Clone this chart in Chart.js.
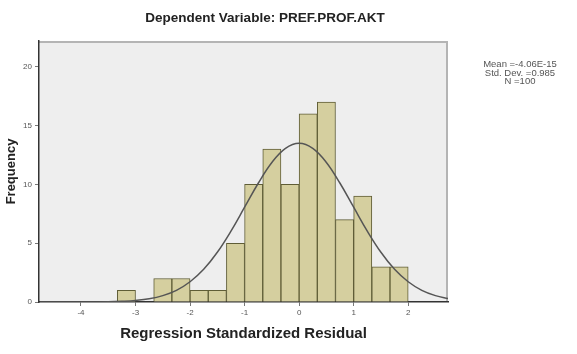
<!DOCTYPE html>
<html lang="en">
<head>
<meta charset="UTF-8">
<title>Histogram - Regression Standardized Residual</title>
<script src="https://cdn.jsdelivr.net/npm/chart.js@4"></script>
<style>
body{margin:0;background:#fff;font-family:"Liberation Sans",Arial,sans-serif}
.wrap{position:relative;width:577px;height:354px}
.title{position:absolute;left:0;width:530px;top:10px;text-align:center;font-size:13.5px;font-weight:bold;color:#222}
.stats{position:absolute;left:470px;width:100px;top:60px;text-align:center;font-size:9.5px;line-height:8.5px;color:#555}
</style>
</head>
<body>
<div class="wrap">
  <canvas id="chart" width="577" height="354"></canvas>
  <div class="title">Dependent Variable: PREF.PROF.AKT</div>
  <div class="stats">Mean =-4.06E-15<br>Std. Dev. =0.985<br>N =100</div>
</div>
<script>
// histogram bins (width 1/3), centres and counts
const binCenters = [-19/6, -17/6, -15/6, -13/6, -11/6, -9/6, -7/6, -5/6, -3/6, -1/6, 1/6, 3/6, 5/6, 7/6, 9/6, 11/6];
const binCounts  = [1, 0, 2, 2, 1, 1, 5, 10, 13, 10, 16, 17, 7, 9, 3, 3];

// normal curve
const curveX = [-4.75, -4.5, -4, -3.5, -3.25, -3, -2.75, -2.5, -2.25, -2, -1.75, -1.5, -1.25, -1, -0.75, -0.5, -0.25, 0,
                0.25, 0.5, 0.75, 1, 1.25, 1.5, 1.75, 2, 2.25, 2.5, 2.75];
const curveY = [0, 0, 0, 0.02, 0.06, 0.13, 0.27, 0.54, 0.99, 1.72, 2.78, 4.23, 6.03, 8.06, 10.10, 11.87, 13.07, 13.5,
                13.07, 11.87, 10.10, 8.06, 6.03, 4.23, 2.78, 1.72, 0.99, 0.54, 0.27];

const xTicks = [-4, -3, -2, -1, 0, 1, 2];
const yTicks = [0, 5, 10, 15, 20];

const plotBg = {
  id: 'plotBg',
  beforeDraw(chart) {
    const {ctx, chartArea: a} = chart;
    ctx.save();
    ctx.fillStyle = '#eeeeee';
    ctx.fillRect(a.left, a.top, a.right - a.left, a.bottom - a.top);
    ctx.strokeStyle = '#b4b4b4';
    ctx.lineWidth = 2;
    ctx.beginPath();
    ctx.moveTo(a.left, a.top + 1);
    ctx.lineTo(a.right - 1, a.top + 1);
    ctx.lineTo(a.right - 1, a.bottom);
    ctx.stroke();
    ctx.restore();
  }
};

const fam = '"Liberation Sans", Arial, sans-serif';
const tickFont = {family: fam, size: 8};

new Chart(document.getElementById('chart'), {
  type: 'bar',
  data: {
    datasets: [
      {
        type: 'line',
        data: curveX.map((x, i) => ({x: x, y: curveY[i]})),
        borderColor: '#555555',
        borderWidth: 1.5,
        pointRadius: 0,
        tension: 0.4,
        fill: false,
        order: 0
      },
      {
        type: 'bar',
        data: binCenters.map((x, i) => ({x: x, y: binCounts[i]})),
        backgroundColor: '#d5cf9f',
        borderColor: '#5f5d36',
        borderWidth: 1,
        barPercentage: 1,
        categoryPercentage: 1,
        order: 1
      }
    ]
  },
  options: {
    responsive: false,
    animation: false,
    layout: {padding: {left: 0, top: 41, right: 129, bottom: 0}},
    plugins: {legend: {display: false}, tooltip: {enabled: false}},
    scales: {
      x: {
        type: 'linear',
        min: -4.77,
        max: 2.73,
        offset: false,
        afterBuildTicks: s => { s.ticks = xTicks.map(v => ({value: v})); },
        afterFit: s => { s.height = 52; },
        grid: {offset: false, drawOnChartArea: false, tickLength: 4, color: '#777', tickColor: '#777'},
        border: {color: '#333', width: 1.5},
        ticks: {font: tickFont, color: '#555', padding: 2, maxRotation: 0},
        title: {display: true, text: 'Regression Standardized Residual', font: {family: fam, size: 15, weight: 'bold'}, color: '#222', padding: {top: 0, bottom: 11}}
      },
      y: {
        min: 0,
        max: 22.2,
        afterBuildTicks: s => { s.ticks = yTicks.map(v => ({value: v})); },
        afterFit: s => { s.width = 39; },
        grid: {offset: false, drawOnChartArea: false, tickLength: 4, color: '#777', tickColor: '#777'},
        border: {color: '#333', width: 1.5},
        ticks: {font: tickFont, color: '#555', padding: 3},
        title: {display: true, text: 'Frequency', font: {family: fam, size: 13, weight: 'bold'}, color: '#222', padding: {top: 4, bottom: 0}}
      }
    }
  },
  plugins: [plotBg]
});
</script>
</body>
</html>
